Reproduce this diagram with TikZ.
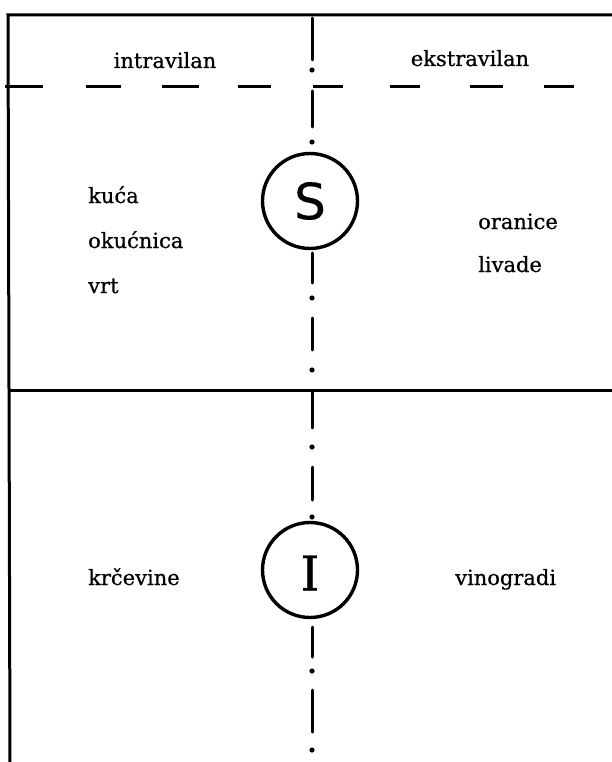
\documentclass[tikz,border=0pt]{standalone}
\usepackage{fontspec}
\setmainfont{DejaVu Serif}[FakeBold=0.6]
\newfontfamily\circsans{DejaVu Sans}[FakeBold=0.4]
\begin{document}
\begin{tikzpicture}[x=1pt,y=-1pt,
  frameline/.style={line width=3pt},
  hdash/.style={line width=3pt},
  cdash/.style={line width=3pt,line cap=round},
  cdot/.style={circle,fill=black,inner sep=0pt,minimum size=5.2pt},
  ring/.style={circle,draw,line width=3.4pt,minimum size=95pt,inner sep=0pt,fill=white},
  lbl/.style={font=\fontsize{21}{25}\selectfont,inner sep=0pt},
  lleft/.style={lbl,anchor=base west},
  lcent/.style={lbl,anchor=base}]
\useasboundingbox (0,0) rectangle (612,762);
% frame
\coordinate (tl) at (8,15);
\coordinate (tr) at (612,15);
\coordinate (bl) at (10,762);
\coordinate (ml) at (8,390);
\coordinate (mr) at (612,390);
\draw[frameline] (tr) -- (tl) -- (bl);
\draw[frameline] (ml) -- (mr);
% dashed separator
\foreach \a/\b in {5/43,86/121,162/199,238/271,313/343,390/420,470/503,544/574}
  \draw[hdash] (\a,87) -- (\b,87);
% circles
\node[ring] (S) at (310,201) {};
\node[font=\circsans\fontsize{50}{50}\selectfont] (Slbl) at (S.center) {S};
\node[ring] (I) at (310,570) {};
\node[font=\fontsize{48}{48}\selectfont] (Ilbl) at (310,573) {I};
% centre line
\foreach \a/\b in {18/60,91/127,253/283,318/350,392/428,467/500,627/657,690/732}
  \draw[cdash] (312,\a) -- (312,\b);
\foreach \y in {70,142,298,370,447,517,671,750}
  \node[cdot] at (312,\y) {};
% texts
\node[lcent] (intra) at (165,68) {intravilan};
\node[lcent] (ekstra) at (470,66) {ekstravilan};
\node[lleft] (kuca) at (88,203) {kuća};
\node[lleft] (okuc) at (88,248) {okućnica};
\node[lleft] (vrt) at (88,293) {vrt};
\node[lleft] (oran) at (478,229) {oranice};
\node[lleft] (liv) at (478,272) {livade};
\node[lleft] (krc) at (88,585) {krčevine};
\node[lleft] (vino) at (455,585) {vinogradi};
\end{tikzpicture}
\end{document}
